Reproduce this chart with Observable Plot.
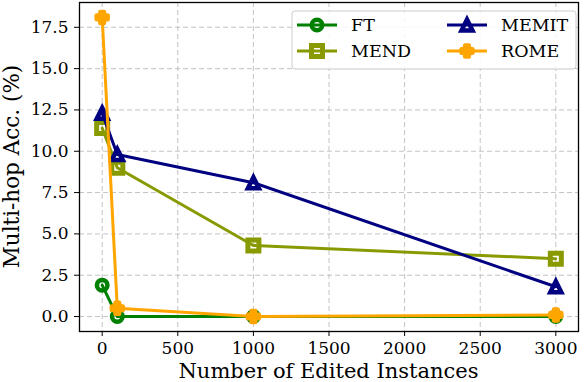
<!DOCTYPE html>
<html>
<head>
<meta charset="utf-8">
<script src="https://cdn.jsdelivr.net/npm/d3@7"></script>
<script src="https://cdn.jsdelivr.net/npm/@observablehq/plot@0.6"></script>
<style>
  html, body { margin: 0; padding: 0; background: #fff; }
  #chart { width: 588px; height: 382px; }
  #chart svg, #chart svg text { font-family: "DejaVu Serif" !important; }
</style>
</head>
<body>
<div id="chart"></div>
<script>
// ---- data ----
const editedInstances = [0, 100, 1000, 3000];
const ftAcc    = [1.9, 0.0, 0.0, 0.0];
const mendAcc  = [11.4, 9.0, 4.3, 3.5];
const memitAcc = [12.3, 9.8, 8.1, 1.8];
const romeAcc  = [18.1, 0.5, 0.0, 0.1];
const seriesNames = ["FT", "MEND", "MEMIT", "ROME"];
const xTicks = [0, 500, 1000, 1500, 2000, 2500, 3000];
const yTicks = [0, 2.5, 5, 7.5, 10, 12.5, 15, 17.5];
const xLabel = "Number of Edited Instances";
const yLabel = "Multi-hop Acc. (%)";

// ---- styles ----
const colors = {FT: "#008000", MEND: "#889a00", MEMIT: "#000080", ROME: "#ffa500"};
const rad = s => Math.sqrt(s / Math.PI);
const symCircle = {draw(c, s) { const r = rad(s); c.moveTo(r, 0); c.arc(0, 0, r, 0, 2 * Math.PI); c.closePath(); }};
const symSquare = {draw(c, s) { const r = rad(s); c.rect(-r, -r, 2 * r, 2 * r); }};
const symTri = {draw(c, s) { const r = rad(s); c.moveTo(0, -r); c.lineTo(r, r); c.lineTo(-r, r); c.closePath(); }};
const symPlus = {draw(c, s) {
  const r = rad(s), a = r / 3;
  c.moveTo(-a, -r); c.lineTo(a, -r); c.lineTo(a, -a); c.lineTo(r, -a); c.lineTo(r, a); c.lineTo(a, a);
  c.lineTo(a, r); c.lineTo(-a, r); c.lineTo(-a, a); c.lineTo(-r, a); c.lineTo(-r, -a); c.lineTo(-a, -a); c.closePath();
}};
const symbols = {FT: symCircle, MEND: symSquare, MEMIT: symTri, ROME: symPlus};
const fills = {FT: "none", MEND: "none", MEMIT: "none", ROME: colors.ROME};
const sizes = {FT: 5.25, MEND: 5.5, MEMIT: 5.5, ROME: 5.5};
const edgeWidths = {FT: 4.5, MEND: 5, MEMIT: 4.5, ROME: 4.5};
const joins = {FT: "miter", MEND: "miter", MEMIT: "miter", ROME: "round"};

const valuesBy = {FT: ftAcc, MEND: mendAcc, MEMIT: memitAcc, ROME: romeAcc};
const data = seriesNames.flatMap(name => editedInstances.map((x, i) => ({series: name, x, y: valuesBy[name][i]})));

const marks = [
  Plot.gridX(xTicks, {stroke: "#b0b0b0", strokeOpacity: 0.75, strokeDasharray: "5,3", strokeWidth: 1}),
  Plot.gridY(yTicks, {stroke: "#b0b0b0", strokeOpacity: 0.75, strokeDasharray: "5,3", strokeWidth: 1}),
  Plot.axisX({ticks: xTicks, tickFormat: "d", tickSize: 5, tickPadding: 5, fontSize: 17, label: null}),
  Plot.axisY({ticks: yTicks, tickFormat: ".1f", tickSize: 5, tickPadding: 6, fontSize: 17, label: null}),
];
for (const name of seriesNames) {
  const d = data.filter(v => v.series === name);
  marks.push(Plot.line(d, {x: "x", y: "y", stroke: colors[name], strokeWidth: 3}));
  marks.push(Plot.dot(d, {x: "x", y: "y", symbol: symbols[name], r: sizes[name], stroke: colors[name],
    fill: fills[name], strokeWidth: edgeWidths[name], strokeLinejoin: joins[name]}));
}
marks.push(Plot.frame({stroke: "black", strokeWidth: 1.3}));

const mL = 79, mR = 10, mT = 2, mB = 51, W = 588, H = 382;
const chart = Plot.plot({
  width: W,
  height: H,
  marginLeft: mL,
  marginRight: mR,
  marginTop: mT,
  marginBottom: mB,
  style: {fontFamily: "DejaVu Serif", fontSize: "17px", color: "black", background: "white"},
  x: {domain: [-150, 3150]},
  y: {domain: [-0.905, 19.0]},
  marks
});
document.getElementById("chart").appendChild(chart);

const svg = d3.select(chart);
// ---- axis titles ----
svg.append("text").attr("x", (mL + W - mR) / 2).attr("y", 378)
  .attr("text-anchor", "middle").style("font-family", "DejaVu Serif").attr("font-size", 21)
  .attr("fill", "black").text(xLabel);
svg.append("text").attr("transform", `translate(18.5,${(mT + H - mB) / 2}) rotate(-90)`)
  .attr("text-anchor", "middle").style("font-family", "DejaVu Serif").attr("font-size", 21.5)
  .attr("fill", "black").text(yLabel);

// ---- legend ----
const lg = svg.append("g").style("font-family", "DejaVu Serif").attr("font-size", 17.5).attr("text-anchor", "start");
lg.append("rect").attr("x", 292).attr("y", 11).attr("width", 284).attr("height", 58)
  .attr("rx", 3).attr("fill", "white").attr("fill-opacity", 0.85).attr("stroke", "#cccccc").attr("stroke-width", 1);
seriesNames.forEach((name, i) => {
  const row = i % 2, x0 = i < 2 ? 297 : 447, y0 = row === 0 ? 25 : 51;
  lg.append("line").attr("x1", x0).attr("x2", x0 + 40).attr("y1", y0).attr("y2", y0)
    .attr("stroke", colors[name]).attr("stroke-width", 3);
  lg.append("path").attr("transform", `translate(${x0 + 20},${y0})`)
    .attr("d", d3.symbol(symbols[name], sizes[name] * sizes[name] * Math.PI)())
    .attr("stroke", colors[name]).attr("fill", fills[name]).attr("stroke-width", edgeWidths[name])
    .attr("stroke-linejoin", joins[name]);
  lg.append("text").attr("x", x0 + 54).attr("y", y0).attr("dy", "0.35em").attr("fill", "black").text(name);
});
</script>
</body>
</html>
